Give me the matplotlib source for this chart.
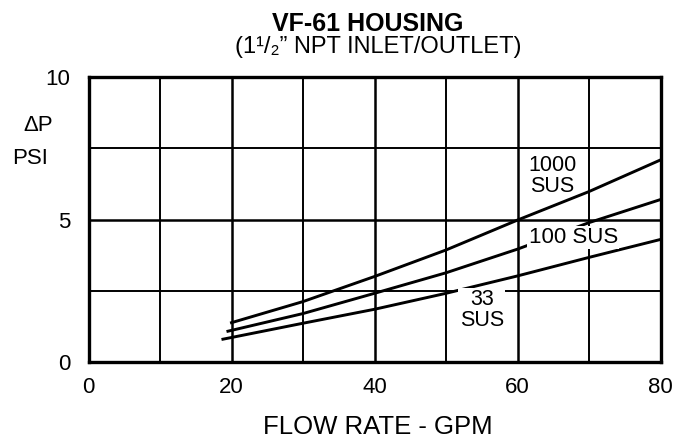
import matplotlib
matplotlib.use("Agg")
import matplotlib.pyplot as plt

# Flow rate (GPM) and pressure drop (PSI)
flow_1000 = [20, 30, 40, 50, 60, 70, 80]
dp_1000 = [1.38, 2.12, 3.0, 3.93, 4.98, 5.98, 7.09]

flow_100 = [19.5, 30, 40, 50, 60, 70, 80]
dp_100 = [1.08, 1.7, 2.41, 3.13, 3.96, 4.89, 5.7]

flow_33 = [18.8, 30, 40, 50, 60, 70, 80]
dp_33 = [0.8, 1.36, 1.85, 2.41, 3.02, 3.67, 4.3]

x_ticks = [0, 20, 40, 60, 80]
y_ticks = [0, 5, 10]

plt.rcParams['font.family'] = ['Liberation Sans', 'DejaVu Sans']

fig = plt.figure(figsize=(6.89, 4.40), dpi=100)
ax = fig.add_axes([88.5 / 689, 1 - 362 / 440, 572 / 689, 285 / 440])

# grid: heavy lines every 20 GPM / 5 PSI, lighter in between
for gx in range(10, 80, 10):
    ax.axvline(gx, color='black', lw=1.8 if gx % 20 == 0 else 1.4, zorder=1)
for gy in [2.5, 5, 7.5]:
    ax.axhline(gy, color='black', lw=1.8 if gy == 5 else 1.4, zorder=1)

ax.plot(flow_1000, dp_1000, color='black', lw=2.1, zorder=2)
ax.plot(flow_100, dp_100, color='black', lw=2.1, zorder=2)
ax.plot(flow_33, dp_33, color='black', lw=2.1, zorder=2)

box = dict(facecolor='white', edgecolor='none', pad=1)
ax.text(64.9, 6.54, "1000\nSUS", ha='center', va='center', fontsize=15.5,
        linespacing=1.0, zorder=3)
ax.text(67.8, 4.37, "100 SUS", ha='center', va='center', fontsize=16,
        bbox=box, zorder=3)
ax.text(55.0, 1.82, "33\nSUS", ha='center', va='center', fontsize=15.5,
        linespacing=1.0, bbox=box, zorder=3)

ax.set_xlim(0, 80)
ax.set_ylim(0, 10)
ax.set_xticks(x_ticks)
ax.set_yticks(y_ticks)
ax.tick_params(length=0, labelsize=16, pad=11)
ax.tick_params(axis='y', pad=13)
for s in ax.spines.values():
    s.set_linewidth(2.4)

fig.text(368 / 689, 1 - 24 / 440, "VF-61 HOUSING", ha='center', va='center',
         fontsize=18, fontweight='bold')
fig.text(378.5 / 689, 1 - 46.5 / 440, "(1\u00b9/\u2082\u201d NPT INLET/OUTLET)",
         ha='center', va='center', fontsize=17)
fig.text(378 / 689, 1 - 427 / 440, "FLOW RATE - GPM", ha='center', va='center',
         fontsize=18.5)
fig.text(38 / 689, 1 - 125 / 440, "\u0394P", ha='center', va='center', fontsize=16)
fig.text(30.5 / 689, 1 - 158 / 440, "PSI", ha='center', va='center', fontsize=16)

fig.savefig("out.png", dpi=100, facecolor='white')
